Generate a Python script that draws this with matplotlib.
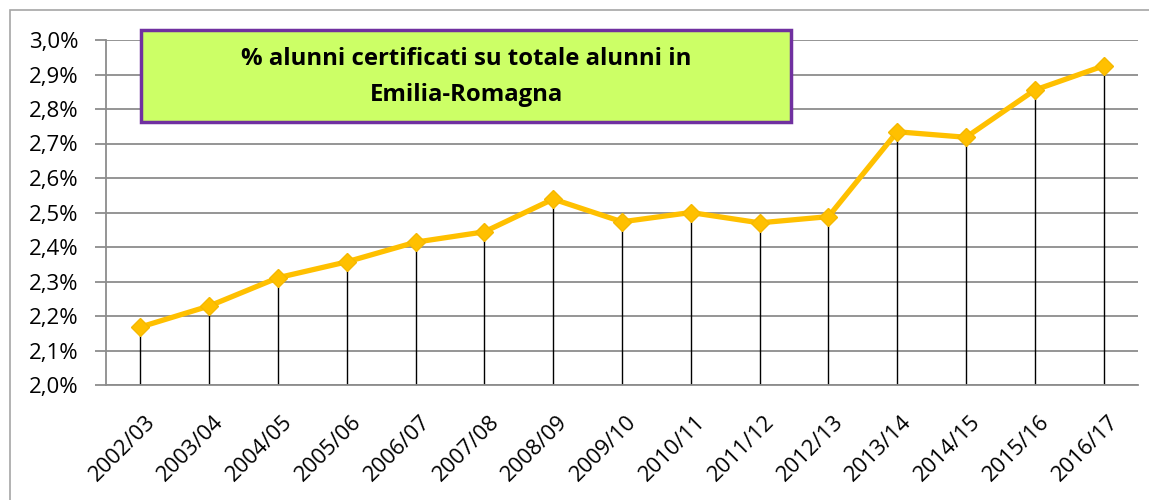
import matplotlib
matplotlib.use("Agg")
import matplotlib.pyplot as plt
from matplotlib.patches import Rectangle
from matplotlib.ticker import FuncFormatter
from matplotlib.transforms import ScaledTranslation

years = ["2002/03", "2003/04", "2004/05", "2005/06", "2006/07", "2007/08", "2008/09",
         "2009/10", "2010/11", "2011/12", "2012/13", "2013/14", "2014/15", "2015/16", "2016/17"]
values = [2.168, 2.229, 2.311, 2.357, 2.414, 2.444, 2.539,
          2.473, 2.500, 2.470, 2.488, 2.734, 2.718, 2.855, 2.925]
yticks = [2.0, 2.1, 2.2, 2.3, 2.4, 2.5, 2.6, 2.7, 2.8, 2.9, 3.0]
title = "% alunni certificati su totale alunni in\nEmilia-Romagna"

plt.rcParams['font.family'] = ['Open Sans', 'DejaVu Sans']

fig = plt.figure(figsize=(11.49, 5.0), dpi=100)
# outer chart border
fig.patches.append(Rectangle((10/1149, -0.05), 1.2, 1 - 10/500 + 0.05, transform=fig.transFigure,
                             fill=False, edgecolor="#A6A6A6", linewidth=1.2))

ax = fig.add_axes([106/1149, 1 - 385/500, (1138 - 106)/1149, (385 - 40)/500])
x = list(range(len(years)))
ax.set_xlim(-0.5, len(years) - 0.5)
ax.set_ylim(2.0, 3.0)
ax.set_yticks(yticks)
ax.yaxis.set_major_formatter(FuncFormatter(lambda v, p: f"{v:.1f}%".replace(".", ",")))
ax.grid(axis="y", color="#8C8C8C", linewidth=1.3)
ax.set_axisbelow(True)
for s in ["top", "right"]:
    ax.spines[s].set_visible(False)
ax.spines["left"].set_color("#8C8C8C")
ax.spines["bottom"].set_color("#8C8C8C")
ax.spines["left"].set_linewidth(1.3)
ax.spines["bottom"].set_linewidth(1.3)
ax.tick_params(axis="y", length=8, color="#8C8C8C", width=1.3, labelsize=16, pad=12)
ax.tick_params(axis="x", length=0, labelsize=15.8, pad=19)
ax.set_xticks(x)
ax.set_xticklabels(years, rotation=45, ha="right", rotation_mode="anchor")
off = ScaledTranslation(4/100, 0, fig.dpi_scale_trans)
for lab in ax.get_xticklabels():
    lab.set_transform(lab.get_transform() + off)

ax.vlines(x, 2.0, values, colors="black", linewidth=1.0, zorder=2)
ax.plot(x, values, color="#FFC000", linewidth=3.8, marker="D", markersize=9,
        markerfacecolor="#FFC000", markeredgecolor="#F5B800", zorder=3)

# title box
fig.patches.append(Rectangle((141/1149, 1 - 122/500), (791 - 141)/1149, (122 - 30)/500,
                             transform=fig.transFigure, facecolor="#CCFF66",
                             edgecolor="#7030A0", linewidth=2.5, zorder=5))
fig.text(466/1149, 1 - 77/500, title, ha="center", va="center", fontsize=17.2,
         fontweight="bold", linespacing=1.7, zorder=6)

fig.savefig("out.png", dpi=100)
